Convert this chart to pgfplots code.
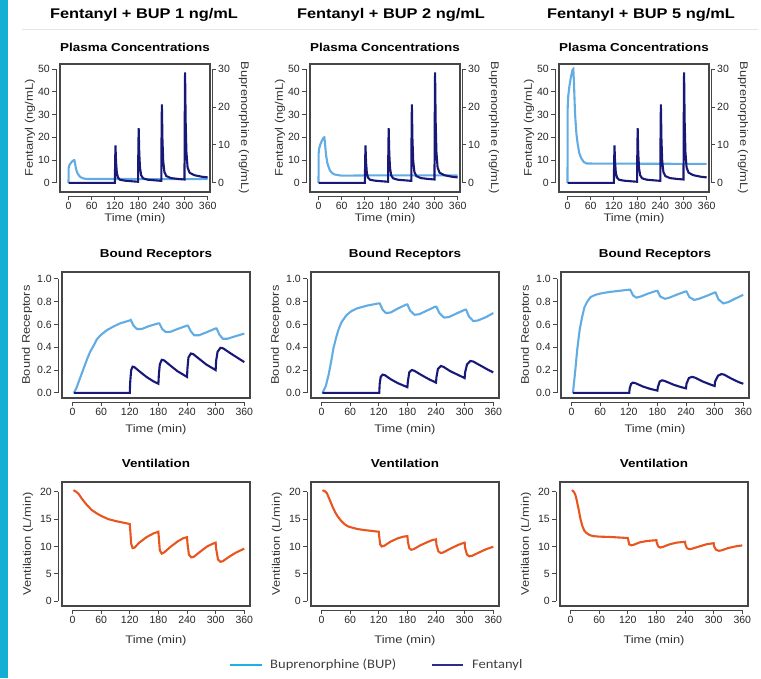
\documentclass[border=0pt]{standalone}
\usepackage{pgfplots}
\usepackage{pgfplotstable}
\pgfplotsset{compat=1.18}
\usepackage{fontspec}
\setmainfont{Liberation Sans}[FakeStretch=1.17]
\newfontfamily\tickfont{Liberation Sans}
\newfontfamily\legfont{Carlito}[FakeStretch=1.12]

\definecolor{bupc}{RGB}{98,172,228}
\definecolor{fenc}{RGB}{24,24,120}
\definecolor{ventc}{RGB}{232,86,32}
\definecolor{framec}{RGB}{70,70,70}
\definecolor{barc}{RGB}{18,174,212}
\definecolor{bupleg}{RGB}{30,178,226}
\definecolor{fenleg}{RGB}{40,46,138}

% fentanyl plasma concentration (ng/mL), same in every column
\pgfplotstableread{
t v
0 0
120 0
120.5 8
121.5 16.5
123 9
125 4.5
128 2.3
133 1.4
145 1.0
165 0.7
180 0.5
180.5 12
181.5 24
183 13
185 6.5
188 3.3
193 2.0
205 1.4
225 1.1
240 0.9
240.5 17
241.5 34.5
243 19
245 9.5
248 4.8
253 3.0
265 2.1
285 1.7
300 1.5
300.5 24
301.5 48.5
303 27
305 13.5
308 6.8
313 4.5
325 3.4
345 2.7
360 2.4
}\plasmafen

\newcommand{\labfont}{\fontsize{11}{13}\selectfont}
\newcommand{\titfont}{\bfseries\fontsize{11.5}{14}\selectfont}

\pgfplotsset{
  panel/.style={scale only axis, anchor=north west,
    axis x line*=bottom, axis y line*=left, axis line shift=4pt,
    axis line style={draw=framec, line width=0.9pt, -},
    tick align=outside, major tick length=4pt,
    every tick/.style={draw=framec, line width=0.9pt},
    xtick={0,60,...,360},
    xmin=-22, xmax=372,
    /pgf/number format/assume math mode=true,
    tick label style={font=\tickfont\fontsize{10.5}{12}\selectfont, text=black!85, inner sep=2pt},
    after end axis/.code={\draw[framec, line width=1.1pt] (rel axis cs:0,0) rectangle (rel axis cs:1,1);},
  },
  tpos/.style={every axis title/.style={at={(axis description cs:0.5,1)}, anchor=center, yshift=#1, font=\titfont, text=black}},
  xlpos/.style={every axis x label/.style={at={(axis description cs:0.5,0)}, anchor=center, yshift=#1, font=\labfont, text=black!80}},
  ylpos/.style={every axis y label/.style={at={(axis description cs:#1,0.5)}, anchor=center, rotate=90, font=\labfont, text=black!80}},
  row1/.style={panel, width=150pt, height=128pt, xmax=366,
    ymin=-4, ymax=52.2, ytick={0,10,...,50},
    x axis line style={shorten <=8.5pt, shorten >=2.3pt},
    y axis line style={shorten <=9.1pt, shorten >=5pt},
    tpos=17pt, xlpos=-27pt, ylpos=-0.2},
  row1r/.style={panel, width=150pt, height=128pt, xmax=366,
    axis x line=none, axis y line*=right, axis y line shift=2pt,
    ymin=-2.4, ymax=31.32, ytick={0,10,20,30},
    y axis line style={shorten <=9.1pt, shorten >=5pt},
    after end axis/.code={},
    every axis y label/.style={at={(axis description cs:1.227,0.5)}, anchor=center, rotate=-90, font=\labfont, text=black!80}},
  row2/.style={panel, width=188pt, height=126pt,
    ymin=-0.045, ymax=1.06, ytick={0,0.2,...,1.0},
    yticklabel style={/pgf/number format/.cd, fixed, fixed zerofill, precision=1},
    x axis line style={shorten <=10.5pt, shorten >=5.7pt},
    y axis line style={shorten <=5.1pt, shorten >=6.8pt},
    tpos=17pt, xlpos=-32pt, ylpos=-0.186},
  row3/.style={panel, width=188pt, height=124pt,
    ymin=-0.9, ymax=21.8, ytick={0,5,...,20},
    x axis line style={shorten <=10.5pt, shorten >=5.7pt},
    y axis line style={shorten <=4.9pt, shorten >=9.8pt},
    tpos=19pt, xlpos=-35pt, ylpos=-0.181},
  bup/.style={bupc, line width=2.1pt, no marks},
  fen/.style={fenc, line width=2.1pt, no marks},
  vent/.style={ventc, line width=2.1pt, no marks},
}

\begin{document}
\begin{tikzpicture}[x=1pt, y=1pt]
\path[use as bounding box] (0,0) rectangle (761,-678);
\fill[barc] (0,0) rectangle (8,-678);
\draw[black!10, line width=0.8pt] (22,-29) -- (758,-29);

\node[font=\bfseries\fontsize{14}{16}\selectfont] at (144,-15) {Fentanyl + BUP 1 ng/mL};
\node[font=\bfseries\fontsize{14}{16}\selectfont] at (391,-15) {Fentanyl + BUP 2 ng/mL};
\node[font=\bfseries\fontsize{14}{16}\selectfont] at (641,-15) {Fentanyl + BUP 5 ng/mL};

% ---------------- row 1: plasma concentrations ----------------
\begin{axis}[row1r, at={(60pt,-64pt)}, ylabel={Buprenorphine (ng/mL)}]
\addplot[bup] coordinates {(0,0) (0.5,4) (2,4.6) (5,5.1) (9,5.6) (13,5.96) (15,6) (16.5,5.4) (18.5,4.2) (20,3.5) (23,2.6) (26,2.1) (30,1.6) (35,1.32) (42,1.1) (50,1.02) (360,1.0)};
\end{axis}
\begin{axis}[row1, at={(60pt,-64pt)}, title={Plasma Concentrations}, xlabel={Time (min)}, ylabel={Fentanyl (ng/mL)}]
\addplot[fen] table[x=t, y=v] {\plasmafen};
\end{axis}

\begin{axis}[row1r, at={(310pt,-64pt)}, ylabel={Buprenorphine (ng/mL)}]
\addplot[bup] coordinates {(0,0) (0.5,8) (2,9.2) (5,10.2) (9,11.2) (13,11.9) (15,12) (16.5,10.8) (18.5,8.4) (20,7.0) (23,5.2) (26,4.2) (30,3.2) (35,2.6) (42,2.2) (60,1.9) (150,2.0) (360,2.0)};
\end{axis}
\begin{axis}[row1, at={(310pt,-64pt)}, title={Plasma Concentrations}, xlabel={Time (min)}, ylabel={Fentanyl (ng/mL)}]
\addplot[fen] table[x=t, y=v] {\plasmafen};
\end{axis}

\begin{axis}[row1r, at={(559pt,-64pt)}, ylabel={Buprenorphine (ng/mL)}]
\addplot[bup] coordinates {(0,0) (0.5,20) (2,23) (5,25.5) (9,28) (13,29.8) (15,30) (16.5,27) (18.5,21) (20,17.4) (23,13) (26,10.5) (30,8) (35,6.6) (42,5.5) (50,5.1) (360,5.0)};
\end{axis}
\begin{axis}[row1, at={(559pt,-64pt)}, title={Plasma Concentrations}, xlabel={Time (min)}, ylabel={Fentanyl (ng/mL)}]
\addplot[fen] table[x=t, y=v] {\plasmafen};
\end{axis}

% ---------------- row 2: bound receptors ----------------
\begin{axis}[row2, at={(62pt,-272pt)}, title={Bound Receptors}, xlabel={Time (min)}, ylabel={Bound Receptors}]
\addplot[bup] coordinates {(3,0) (8,0.04) (15,0.12) (23,0.21) (30,0.29) (37,0.36) (45,0.42) (51,0.47) (60,0.51) (72,0.55) (85,0.58) (100,0.61) (120,0.635) (122,0.64) (128,0.59) (135,0.56) (145,0.56) (160,0.585) (180,0.61) (182,0.61) (188,0.56) (195,0.535) (205,0.535) (220,0.56) (240,0.59) (242,0.59) (248,0.54) (255,0.505) (265,0.505) (280,0.53) (300,0.565) (302,0.565) (308,0.51) (315,0.475) (325,0.475) (340,0.495) (360,0.52)};
\addplot[fen] coordinates {(3,0) (120,0) (121,0.1) (123,0.2) (126,0.23) (130,0.225) (140,0.19) (155,0.14) (170,0.1) (180,0.08) (181,0.16) (183,0.25) (187,0.29) (192,0.285) (205,0.24) (220,0.19) (240,0.14) (241,0.22) (243,0.31) (248,0.345) (253,0.34) (265,0.3) (280,0.25) (300,0.2) (301,0.28) (304,0.36) (310,0.395) (316,0.39) (330,0.35) (345,0.31) (360,0.27)};
\end{axis}

\begin{axis}[row2, at={(311pt,-272pt)}, title={Bound Receptors}, xlabel={Time (min)}, ylabel={Bound Receptors}]
\addplot[bup] coordinates {(2,0) (9,0.06) (15,0.16) (20,0.27) (25,0.39) (31,0.49) (36,0.56) (42,0.62) (52,0.68) (62,0.715) (74,0.74) (95,0.765) (120,0.785) (122,0.785) (128,0.73) (135,0.70) (145,0.705) (160,0.74) (178,0.775) (180,0.775) (186,0.72) (195,0.685) (205,0.69) (220,0.72) (238,0.755) (241,0.755) (247,0.70) (257,0.66) (267,0.665) (285,0.70) (301,0.73) (303,0.73) (309,0.67) (318,0.63) (328,0.635) (345,0.665) (360,0.70)};
\addplot[fen] coordinates {(2,0) (121,0) (122,0.08) (124,0.14) (128,0.16) (133,0.155) (145,0.12) (160,0.085) (180,0.05) (181,0.1) (184,0.18) (189,0.2) (194,0.195) (210,0.155) (225,0.12) (240,0.09) (241,0.14) (244,0.21) (250,0.235) (255,0.23) (270,0.19) (285,0.16) (300,0.13) (301,0.18) (305,0.25) (312,0.28) (318,0.275) (333,0.24) (348,0.205) (360,0.18)};
\end{axis}

\begin{axis}[row2, at={(561pt,-272pt)}, title={Bound Receptors}, xlabel={Time (min)}, ylabel={Bound Receptors}]
\addplot[bup] coordinates {(3,0) (8,0.2) (12,0.38) (17,0.55) (22,0.66) (27,0.75) (33,0.8) (40,0.84) (50,0.86) (65,0.875) (80,0.885) (100,0.895) (121,0.905) (123,0.905) (129,0.855) (136,0.835) (145,0.845) (160,0.87) (178,0.895) (180,0.895) (186,0.845) (196,0.825) (205,0.835) (220,0.86) (239,0.89) (241,0.89) (247,0.84) (257,0.815) (267,0.825) (283,0.85) (300,0.88) (302,0.88) (308,0.82) (318,0.785) (328,0.795) (345,0.83) (360,0.86)};
\addplot[fen] coordinates {(3,0) (121,0) (122,0.04) (125,0.08) (129,0.09) (134,0.085) (150,0.055) (165,0.035) (180,0.02) (181,0.05) (185,0.1) (190,0.11) (195,0.105) (215,0.07) (230,0.05) (240,0.04) (241,0.08) (246,0.13) (252,0.14) (258,0.135) (275,0.1) (290,0.075) (300,0.06) (301,0.1) (307,0.15) (314,0.165) (320,0.16) (335,0.125) (350,0.095) (360,0.08)};
\end{axis}

% ---------------- row 3: ventilation ----------------
\begin{axis}[row3, at={(62pt,-482pt)}, title={Ventilation}, xlabel={Time (min)}, ylabel={Ventilation (L/min)}]
\addplot[vent] coordinates {(2,20.3) (8,20.0) (13,19.6) (20,18.7) (30,17.6) (40,16.7) (50,16.1) (60,15.6) (75,15.0) (93,14.6) (110,14.3) (120,14.1) (121,13.0) (123,10.5) (126,9.7) (130,9.8) (140,10.7) (155,11.7) (170,12.4) (180,12.7) (181,11.5) (183,9.3) (187,8.7) (192,8.9) (205,9.9) (220,10.9) (232,11.5) (240,11.7) (241,10.5) (244,8.5) (249,8.0) (254,8.1) (267,9.0) (282,10.0) (294,10.5) (300,10.7) (301,9.6) (305,7.6) (310,7.2) (315,7.3) (328,8.1) (343,8.9) (360,9.6)};
\end{axis}

\begin{axis}[row3, at={(311pt,-482pt)}, title={Ventilation}, xlabel={Time (min)}, ylabel={Ventilation (L/min)}]
\addplot[vent] coordinates {(2,20.3) (7,20.1) (11,19.8) (17,18.6) (23,17.3) (29,16.2) (34,15.5) (41,14.7) (48,14.1) (55,13.7) (62,13.5) (75,13.2) (90,13.0) (105,12.85) (120,12.7) (121,11.8) (123,10.4) (126,10.0) (131,10.1) (145,10.9) (160,11.5) (172,11.8) (180,11.9) (181,10.9) (184,9.7) (188,9.4) (193,9.5) (207,10.2) (222,10.8) (233,11.2) (240,11.3) (241,10.3) (245,9.1) (250,8.8) (255,8.9) (270,9.6) (287,10.3) (296,10.6) (300,10.7) (301,9.7) (305,8.5) (310,8.2) (316,8.3) (330,8.9) (345,9.5) (360,9.95)};
\end{axis}

\begin{axis}[row3, at={(560pt,-482pt)}, title={Ventilation}, xlabel={Time (min)}, ylabel={Ventilation (L/min)}]
\addplot[vent] coordinates {(3,20.3) (7,20.0) (10,19.5) (13,18.5) (17,16.8) (21,15.0) (25,13.7) (29,12.9) (33,12.5) (40,12.1) (47,11.9) (60,11.8) (80,11.75) (100,11.65) (120,11.55) (121,11.2) (123,10.4) (127,10.2) (132,10.3) (145,10.75) (160,11.0) (180,11.15) (181,10.6) (184,10.0) (188,9.8) (193,9.9) (208,10.4) (222,10.7) (240,10.85) (241,10.3) (244,9.7) (249,9.5) (255,9.6) (270,10.0) (285,10.4) (300,10.6) (301,10.0) (305,9.4) (311,9.2) (317,9.3) (330,9.7) (345,10.0) (360,10.2)};
\end{axis}

% ---------------- legend ----------------
\draw[bupleg, line width=2pt] (230,-665) -- (262,-665);
\node[anchor=west, inner sep=0pt, font=\legfont\fontsize{13}{15}\selectfont, text=black!75] at (270,-665) {Buprenorphine (BUP)};
\draw[fenleg, line width=2pt] (432,-665) -- (463,-665);
\node[anchor=west, inner sep=0pt, font=\legfont\fontsize{13}{15}\selectfont, text=black!75] at (472,-665) {Fentanyl};
\end{tikzpicture}
\end{document}
